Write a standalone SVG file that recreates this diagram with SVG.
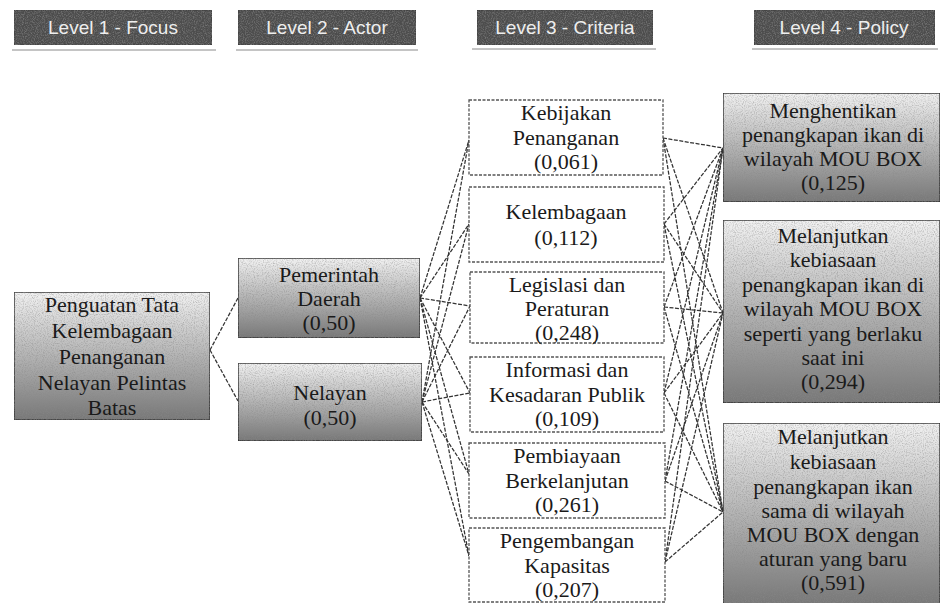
<svg xmlns="http://www.w3.org/2000/svg" width="941" height="603" viewBox="0 0 941 603">
<defs>
<linearGradient id="gshade" x1="0" y1="0" x2="0" y2="1">
<stop offset="0" stop-color="#f2f2f2"/>
<stop offset="0.35" stop-color="#c6c6c6"/>
<stop offset="1" stop-color="#777"/>
</linearGradient>
<filter id="grain" x="0" y="0" width="100%" height="100%">
<feTurbulence type="fractalNoise" baseFrequency="0.9" numOctaves="2" seed="3" result="n"/>
<feColorMatrix in="n" type="matrix" values="0 0 0 0 0.25  0 0 0 0 0.25  0 0 0 0 0.25  1.4 0 0 0 -0.6" result="g"/>
<feComposite in="g" in2="SourceGraphic" operator="in" result="gc"/>
<feMerge><feMergeNode in="SourceGraphic"/><feMergeNode in="gc"/></feMerge>
</filter>
<style>
.hdr rect{fill:#4e4e4e;stroke:#3a3a3a;stroke-width:1;filter:url(#grain)}
.hdr text{font-family:"Liberation Sans","Open Sans",sans-serif;font-size:19px;fill:#eeeeee;text-anchor:middle}
.uline{stroke:#8a8a8a;stroke-width:1}
.shade{fill:url(#gshade);stroke:#333;stroke-width:1.5;filter:url(#grain)}
.plain{fill:#fff;stroke:#555;stroke-width:1.3;stroke-dasharray:3 1.5}
.t{font-family:"Liberation Serif","Times New Roman",serif;font-size:22px;fill:#1a1a1a;text-anchor:middle}
.c line{stroke:#333;stroke-width:1.25;stroke-dasharray:4 1.5}
</style>
</defs>
<rect width="941" height="603" fill="#fff"/>

<g id="headers">
<g id="h1" class="hdr"><rect x="14" y="10" width="198" height="35"/><text x="113" y="34">Level 1 - Focus</text></g>
<g id="h2" class="hdr"><rect x="238" y="10" width="178" height="35"/><text x="327" y="34">Level 2 - Actor</text></g>
<g id="h3" class="hdr"><rect x="477" y="10" width="176" height="35"/><text x="565" y="34">Level 3 - Criteria</text></g>
<g id="h4" class="hdr"><rect x="754" y="10" width="181" height="35"/><text x="844" y="34">Level 4 - Policy</text></g>
<line class="uline" x1="12" y1="50" x2="216" y2="50"/>
<line class="uline" x1="236" y1="50" x2="418" y2="50"/>
<line class="uline" x1="472" y1="49" x2="656" y2="49"/>
<line class="uline" x1="752" y1="49" x2="938" y2="49"/>
</g>

<g id="connectors" class="c">
<line x1="210" y1="350" x2="238" y2="298"/>
<line x1="210" y1="350" x2="238" y2="401"/>
<line x1="420" y1="298" x2="469" y2="140"/>
<line x1="420" y1="298" x2="469" y2="224"/>
<line x1="420" y1="298" x2="470" y2="306"/>
<line x1="420" y1="298" x2="470" y2="393"/>
<line x1="420" y1="298" x2="469" y2="474"/>
<line x1="420" y1="298" x2="469" y2="556"/>
<line x1="422" y1="402" x2="469" y2="140"/>
<line x1="422" y1="402" x2="469" y2="224"/>
<line x1="422" y1="402" x2="470" y2="306"/>
<line x1="422" y1="402" x2="470" y2="393"/>
<line x1="422" y1="402" x2="469" y2="474"/>
<line x1="422" y1="402" x2="469" y2="556"/>
<line x1="663" y1="138" x2="723" y2="148"/>
<line x1="663" y1="138" x2="723" y2="313"/>
<line x1="663" y1="138" x2="723" y2="512"/>
<line x1="664" y1="224" x2="723" y2="148"/>
<line x1="664" y1="224" x2="723" y2="313"/>
<line x1="664" y1="224" x2="723" y2="512"/>
<line x1="664" y1="307" x2="723" y2="148"/>
<line x1="664" y1="307" x2="723" y2="313"/>
<line x1="664" y1="307" x2="723" y2="512"/>
<line x1="664" y1="393" x2="723" y2="148"/>
<line x1="664" y1="393" x2="723" y2="313"/>
<line x1="664" y1="393" x2="723" y2="512"/>
<line x1="665" y1="481" x2="723" y2="148"/>
<line x1="665" y1="481" x2="723" y2="313"/>
<line x1="665" y1="481" x2="723" y2="512"/>
<line x1="665" y1="562" x2="723" y2="148"/>
<line x1="665" y1="562" x2="723" y2="313"/>
<line x1="665" y1="562" x2="723" y2="512"/>
</g>

<g id="focus">
<rect class="shade" x="14" y="292" width="196" height="128"/>
<text class="t" x="112" y="312">Penguatan Tata</text>
<text class="t" x="112" y="338">Kelembagaan</text>
<text class="t" x="112" y="364">Penanganan</text>
<text class="t" x="112" y="390">Nelayan Pelintas</text>
<text class="t" x="112" y="415">Batas</text>
</g>

<g id="pemerintah">
<rect class="shade" x="238" y="258" width="182" height="80"/>
<text class="t" x="329" y="282">Pemerintah</text>
<text class="t" x="329" y="306">Daerah</text>
<text class="t" x="329" y="330">(0,50)</text>
</g>
<g id="nelayan">
<rect class="shade" x="238" y="363" width="184" height="78"/>
<text class="t" x="330" y="400">Nelayan</text>
<text class="t" x="330" y="425">(0,50)</text>
</g>

<g id="c1">
<rect class="plain" x="469" y="100" width="194" height="75"/>
<text class="t" x="566" y="120">Kebijakan</text>
<text class="t" x="566" y="145">Penanganan</text>
<text class="t" x="566" y="169">(0,061)</text>
</g>
<g id="c2">
<rect class="plain" x="469" y="187" width="195" height="75"/>
<text class="t" x="566" y="219">Kelembagaan</text>
<text class="t" x="566" y="245">(0,112)</text>
</g>
<g id="c3">
<rect class="plain" x="470" y="272" width="194" height="71"/>
<text class="t" x="567" y="292">Legislasi dan</text>
<text class="t" x="567" y="316">Peraturan</text>
<text class="t" x="567" y="340">(0,248)</text>
</g>
<g id="c4">
<rect class="plain" x="470" y="357" width="194" height="75"/>
<text class="t" x="567" y="377">Informasi dan</text>
<text class="t" x="567" y="402">Kesadaran Publik</text>
<text class="t" x="567" y="426">(0,109)</text>
</g>
<g id="c5">
<rect class="plain" x="469" y="443" width="196" height="75"/>
<text class="t" x="567" y="463">Pembiayaan</text>
<text class="t" x="567" y="488">Berkelanjutan</text>
<text class="t" x="567" y="512">(0,261)</text>
</g>
<g id="c6">
<rect class="plain" x="469" y="528" width="196" height="74"/>
<text class="t" x="567" y="548">Pengembangan</text>
<text class="t" x="567" y="573">Kapasitas</text>
<text class="t" x="567" y="597">(0,207)</text>
</g>

<g id="p1">
<rect class="shade" x="723" y="93" width="217" height="109"/>
<text class="t" x="833" y="118">Menghentikan</text>
<text class="t" x="833" y="142">penangkapan ikan di</text>
<text class="t" x="833" y="166">wilayah MOU BOX</text>
<text class="t" x="833" y="190">(0,125)</text>
</g>
<g id="p2">
<rect class="shade" x="723" y="220" width="217" height="183"/>
<text class="t" x="833" y="243">Melanjutkan</text>
<text class="t" x="833" y="267">kebiasaan</text>
<text class="t" x="833" y="292">penangkapan ikan di</text>
<text class="t" x="833" y="316">wilayah MOU BOX</text>
<text class="t" x="833" y="341">seperti yang berlaku</text>
<text class="t" x="833" y="365">saat ini</text>
<text class="t" x="833" y="389">(0,294)</text>
</g>
<g id="p3">
<rect class="shade" x="723" y="423" width="217" height="182"/>
<text class="t" x="833" y="444">Melanjutkan</text>
<text class="t" x="833" y="469">kebiasaan</text>
<text class="t" x="833" y="494">penangkapan ikan</text>
<text class="t" x="833" y="518">sama di wilayah</text>
<text class="t" x="833" y="542">MOU BOX dengan</text>
<text class="t" x="833" y="566">aturan yang baru</text>
<text class="t" x="833" y="590">(0,591)</text>
</g>
</svg>
